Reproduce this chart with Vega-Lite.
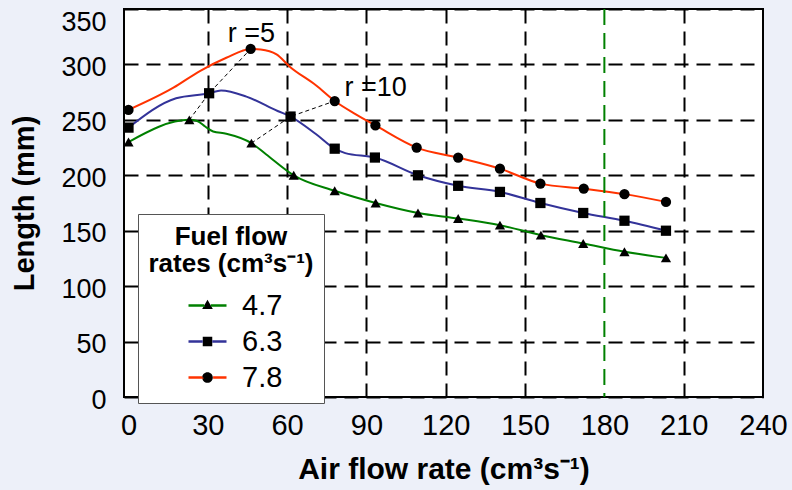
{
  "$schema": "https://vega.github.io/schema/vega-lite/v6.json",
  "width": 639,
  "height": 388,
  "autosize": {"type": "none"},
  "padding": {"left": 124, "top": 9, "right": 29, "bottom": 93},
  "background": "#EDF0F9",
  "config": {
    "font": "Liberation Sans",
    "view": {"fill": "white", "stroke": "black", "strokeWidth": 2}
  },
  "datasets": {
    "curve": [
      {"fuel": "4.7", "x": 0, "y": 230},
      {"fuel": "4.7", "x": 23, "y": 250},
      {"fuel": "4.7", "x": 26, "y": 249},
      {"fuel": "4.7", "x": 29, "y": 244},
      {"fuel": "4.7", "x": 32, "y": 239.5},
      {"fuel": "4.7", "x": 37, "y": 237.5},
      {"fuel": "4.7", "x": 46.5, "y": 229},
      {"fuel": "4.7", "x": 52, "y": 219},
      {"fuel": "4.7", "x": 62.5, "y": 200},
      {"fuel": "4.7", "x": 78, "y": 186},
      {"fuel": "4.7", "x": 93.5, "y": 175},
      {"fuel": "4.7", "x": 109.5, "y": 166},
      {"fuel": "4.7", "x": 124.7, "y": 161},
      {"fuel": "4.7", "x": 140.5, "y": 155},
      {"fuel": "4.7", "x": 156, "y": 146},
      {"fuel": "4.7", "x": 172, "y": 138.5},
      {"fuel": "4.7", "x": 187.6, "y": 131},
      {"fuel": "4.7", "x": 203.3, "y": 125.5},
      {"fuel": "6.3", "x": 0, "y": 243},
      {"fuel": "6.3", "x": 18, "y": 269.5},
      {"fuel": "6.3", "x": 30.5, "y": 274},
      {"fuel": "6.3", "x": 35, "y": 276.5},
      {"fuel": "6.3", "x": 44.6, "y": 271},
      {"fuel": "6.3", "x": 56.4, "y": 258},
      {"fuel": "6.3", "x": 61.3, "y": 253},
      {"fuel": "6.3", "x": 71, "y": 237},
      {"fuel": "6.3", "x": 78, "y": 224},
      {"fuel": "6.3", "x": 82, "y": 220},
      {"fuel": "6.3", "x": 93.2, "y": 216},
      {"fuel": "6.3", "x": 109.5, "y": 200},
      {"fuel": "6.3", "x": 124.7, "y": 190.5},
      {"fuel": "6.3", "x": 140.5, "y": 185},
      {"fuel": "6.3", "x": 155.8, "y": 175},
      {"fuel": "6.3", "x": 172, "y": 166},
      {"fuel": "6.3", "x": 187.6, "y": 159},
      {"fuel": "6.3", "x": 203.3, "y": 150},
      {"fuel": "7.8", "x": 0, "y": 259},
      {"fuel": "7.8", "x": 17, "y": 279},
      {"fuel": "7.8", "x": 27, "y": 294},
      {"fuel": "7.8", "x": 37, "y": 306},
      {"fuel": "7.8", "x": 46.2, "y": 314},
      {"fuel": "7.8", "x": 50, "y": 313.5},
      {"fuel": "7.8", "x": 56, "y": 309},
      {"fuel": "7.8", "x": 61, "y": 298},
      {"fuel": "7.8", "x": 71, "y": 281},
      {"fuel": "7.8", "x": 78, "y": 267},
      {"fuel": "7.8", "x": 86, "y": 255},
      {"fuel": "7.8", "x": 93.4, "y": 245},
      {"fuel": "7.8", "x": 109, "y": 225},
      {"fuel": "7.8", "x": 124.7, "y": 216},
      {"fuel": "7.8", "x": 140.5, "y": 206},
      {"fuel": "7.8", "x": 155.8, "y": 192.5},
      {"fuel": "7.8", "x": 172.2, "y": 188},
      {"fuel": "7.8", "x": 187.6, "y": 183},
      {"fuel": "7.8", "x": 203.3, "y": 176}
    ],
    "measured": [
      {"fuel": "4.7", "x": 0, "y": 230},
      {"fuel": "4.7", "x": 23, "y": 250},
      {"fuel": "4.7", "x": 46.5, "y": 229},
      {"fuel": "4.7", "x": 62.5, "y": 200},
      {"fuel": "4.7", "x": 78, "y": 186},
      {"fuel": "4.7", "x": 93.5, "y": 175},
      {"fuel": "4.7", "x": 109.5, "y": 166},
      {"fuel": "4.7", "x": 124.7, "y": 161},
      {"fuel": "4.7", "x": 140.5, "y": 155},
      {"fuel": "4.7", "x": 156, "y": 146},
      {"fuel": "4.7", "x": 172, "y": 138.5},
      {"fuel": "4.7", "x": 187.6, "y": 131},
      {"fuel": "4.7", "x": 203.3, "y": 125.5},
      {"fuel": "6.3", "x": 0, "y": 243},
      {"fuel": "6.3", "x": 30.5, "y": 274},
      {"fuel": "6.3", "x": 61.3, "y": 253},
      {"fuel": "6.3", "x": 78, "y": 224},
      {"fuel": "6.3", "x": 93.2, "y": 216},
      {"fuel": "6.3", "x": 109.5, "y": 200},
      {"fuel": "6.3", "x": 124.7, "y": 190.5},
      {"fuel": "6.3", "x": 140.5, "y": 185},
      {"fuel": "6.3", "x": 155.8, "y": 175},
      {"fuel": "6.3", "x": 172, "y": 166},
      {"fuel": "6.3", "x": 187.6, "y": 159},
      {"fuel": "6.3", "x": 203.3, "y": 150},
      {"fuel": "7.8", "x": 0, "y": 259},
      {"fuel": "7.8", "x": 46.2, "y": 314},
      {"fuel": "7.8", "x": 78, "y": 267},
      {"fuel": "7.8", "x": 93.4, "y": 245},
      {"fuel": "7.8", "x": 109, "y": 225},
      {"fuel": "7.8", "x": 124.7, "y": 216},
      {"fuel": "7.8", "x": 140.5, "y": 206},
      {"fuel": "7.8", "x": 155.8, "y": 192.5},
      {"fuel": "7.8", "x": 172.2, "y": 188},
      {"fuel": "7.8", "x": 187.6, "y": 183},
      {"fuel": "7.8", "x": 203.3, "y": 176}
    ],
    "connectors": [
      {"r": "5", "x": 23, "y": 250},
      {"r": "5", "x": 30.5, "y": 274},
      {"r": "5", "x": 46.2, "y": 314},
      {"r": "10", "x": 46.5, "y": 229},
      {"r": "10", "x": 61.3, "y": 253},
      {"r": "10", "x": 78, "y": 267}
    ],
    "labels": [
      {"x": 46.5, "y": 327, "text": "r =5"},
      {"x": 93.5, "y": 279, "text": "r =10"}
    ],
    "limit": [
      {"x": 180}
    ]
  },
  "layer": [
    {
      "data": {"name": "curve"},
      "mark": {"type": "line", "interpolate": "monotone", "strokeWidth": 2},
      "encoding": {
        "x": {
          "field": "x", "type": "quantitative",
          "scale": {"domain": [-1.7, 240], "nice": false, "zero": false},
          "axis": {
            "title": "Air flow rate (cm³s⁻¹)",
            "values": [0, 30, 60, 90, 120, 150, 180, 210, 240],
            "labelFontSize": 29, "labelColor": "black", "labelFlush": false, "labelOverlap": false,
            "titleFontSize": 30, "titleFontWeight": "bold", "titleColor": "black",
            "domain": false, "ticks": false, "labelPadding": 14, "titlePadding": 14,
            "grid": true,
            "gridColor": {"condition": {"test": "datum.value === 0 || datum.value === 180 || datum.value === 240", "value": "transparent"}, "value": "black"},
            "gridDash": [14, 8], "gridWidth": 2, "gridOpacity": 1
          }
        },
        "y": {
          "field": "y", "type": "quantitative",
          "scale": {"domain": [0, 350], "nice": false, "zero": false},
          "axis": {
            "title": "Length (mm)",
            "values": [0, 50, 100, 150, 200, 250, 300, 350],
            "labelFontSize": 27, "labelColor": "black", "labelFlush": false, "labelOverlap": false,
            "labelOffset": {"condition": {"test": "datum.value === 350", "value": 13}, "value": 3},
            "titleFontSize": 29, "titleFontWeight": "bold", "titleColor": "black",
            "domain": false, "ticks": false, "labelPadding": 18, "titlePadding": 21,
            "grid": true, "gridColor": "black",
            "gridDash": [14, 8], "gridWidth": 2, "gridOpacity": 1
          }
        },
        "color": {
          "field": "fuel", "type": "nominal",
          "scale": {"domain": ["4.7", "6.3", "7.8"], "range": ["#008000", "#333399", "#FF3300"]},
          "legend": {
            "orient": "none", "legendX": 14, "legendY": 205,
            "title": ["Fuel flow", "rates (cm³s⁻¹)"],
            "titleFontSize": 26, "titleFontWeight": "bold", "titleColor": "black",
            "titleAnchor": "middle", "titleAlign": "center", "titleLineHeight": 27, "titlePadding": 8,
            "labelFontSize": 29, "labelColor": "black", "labelOffset": 14,
            "symbolOffset": 8, "symbolSize": 100, "rowPadding": -8,
            "padding": 10, "fillColor": "white", "strokeColor": "#555555",
            "encode": {
              "symbols": {
                "update": {
                  "shape": {"signal": "datum.value == '4.7' ? 'M-1,0H-0.175L0,-0.3L0.28,0.18H-0.28L-0.175,0H1' : datum.value == '6.3' ? 'M-1,0H-0.25V-0.25H0.25V0.25H-0.25V0H1' : 'M-1,0H-0.28A0.28,0.28,0,1,1,0.28,0A0.28,0.28,0,1,1,-0.28,0H1'"},
                  "size": {"value": 1444},
                  "fill": {"value": "black"},
                  "fillOpacity": {"value": 1},
                  "opacity": {"value": 1},
                  "stroke": {"scale": "color", "field": "value"},
                  "strokeWidth": {"value": 2.5},
                  "strokeDash": {"signal": "datum.value == '4.7' ? [15.7, 38.4, 15.7, 300] : datum.value == '6.3' ? [14.25, 47.5, 14.25, 300] : [13.7, 44.1, 13.7, 300]"}
                }
              }
            }
          }
        }
      }
    },
    {
      "data": {"name": "limit"},
      "mark": {"type": "rule", "color": "#008000", "strokeWidth": 2, "strokeDash": [16, 8]},
      "encoding": {
        "x": {"field": "x", "type": "quantitative", "scale": {"domain": [-1.7, 240], "nice": false, "zero": false}}
      }
    },
    {
      "data": {"name": "connectors"},
      "mark": {"type": "line", "color": "black", "strokeWidth": 1, "strokeDash": [4, 3]},
      "encoding": {
        "x": {"field": "x", "type": "quantitative", "scale": {"domain": [-1.7, 240], "nice": false, "zero": false}},
        "y": {"field": "y", "type": "quantitative", "scale": {"domain": [0, 350], "nice": false, "zero": false}},
        "detail": {"field": "r", "type": "nominal"}
      }
    },
    {
      "data": {"name": "measured"},
      "mark": {"type": "point", "filled": true, "opacity": 1, "size": 105, "color": "black"},
      "encoding": {
        "x": {"field": "x", "type": "quantitative", "scale": {"domain": [-1.7, 240], "nice": false, "zero": false}},
        "y": {"field": "y", "type": "quantitative", "scale": {"domain": [0, 350], "nice": false, "zero": false}},
        "shape": {
          "field": "fuel", "type": "nominal",
          "scale": {"range": ["triangle-up", "square", "circle"]},
          "legend": null
        }
      }
    },
    {
      "data": {"name": "labels"},
      "mark": {"type": "text", "fontSize": 27, "align": "center", "baseline": "middle", "color": "black"},
      "encoding": {
        "x": {"field": "x", "type": "quantitative", "scale": {"domain": [-1.7, 240], "nice": false, "zero": false}},
        "y": {"field": "y", "type": "quantitative", "scale": {"domain": [0, 350], "nice": false, "zero": false}},
        "text": {"field": "text"}
      }
    }
  ]
}
